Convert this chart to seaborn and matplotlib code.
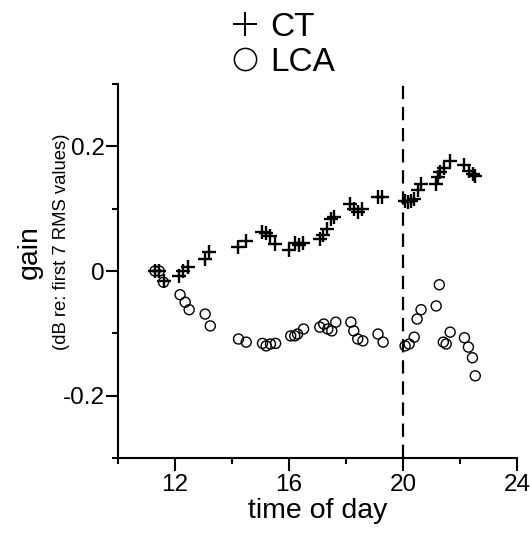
import seaborn as sns
import matplotlib.pyplot as plt
import pandas as pd
from matplotlib.lines import Line2D

# CT gain values (time of day in hours, gain in dB)
ct_time = [11.3, 11.45, 11.6, 12.15, 12.3, 12.45, 13.05, 13.2, 14.2, 14.5,
           15.07, 15.2, 15.35, 15.5, 16.0, 16.2, 16.35, 16.5, 17.08, 17.18,
           17.32, 17.46, 17.57, 18.13, 18.27, 18.41, 18.55, 19.12, 19.26, 20.07,
           20.18, 20.28, 20.39, 20.53, 20.63, 21.16, 21.23, 21.3, 21.44, 21.65,
           22.15, 22.32, 22.46, 22.53]
ct_gain = [0.0, 0.0, -0.016, -0.008, 0.0, 0.006, 0.019, 0.03, 0.038, 0.048,
           0.062, 0.061, 0.056, 0.043, 0.034, 0.045, 0.042, 0.045, 0.051, 0.058,
           0.067, 0.083, 0.086, 0.107, 0.099, 0.094, 0.099, 0.118, 0.118, 0.112,
           0.110, 0.112, 0.115, 0.130, 0.139, 0.139, 0.150, 0.158, 0.165, 0.176,
           0.170, 0.160, 0.155, 0.152]

# LCA gain values
lca_time = [11.3, 11.45, 11.6, 12.18, 12.36, 12.5, 13.06, 13.24, 14.23, 14.5,
            15.07, 15.2, 15.35, 15.53, 16.06, 16.2, 16.3, 16.51, 17.08, 17.22,
            17.36, 17.5, 17.64, 18.17, 18.27, 18.41, 18.59, 19.12, 19.3, 20.07,
            20.21, 20.39, 20.49, 20.63, 21.16, 21.27, 21.41, 21.51, 21.65, 22.15,
            22.29, 22.43, 22.53]
lca_gain = [0.0, 0.0, -0.018, -0.038, -0.05, -0.062, -0.069, -0.088, -0.109, -0.114,
            -0.116, -0.12, -0.117, -0.116, -0.104, -0.104, -0.101, -0.093, -0.090, -0.085,
            -0.093, -0.096, -0.082, -0.082, -0.096, -0.109, -0.112, -0.101, -0.114, -0.12,
            -0.117, -0.106, -0.077, -0.062, -0.056, -0.022, -0.114, -0.117, -0.098, -0.107,
            -0.122, -0.139, -0.168]

event_time = 20

x_major = [12, 16, 20, 24]
x_minor = [10, 14, 18, 22]
y_major = [-0.2, 0, 0.2]
y_minor = [-0.3, -0.1, 0.1, 0.3]

ct = pd.DataFrame({"time": ct_time, "gain": ct_gain})
lca = pd.DataFrame({"time": lca_time, "gain": lca_gain})

sns.set_style("ticks")
plt.rcParams["font.family"] = ["Liberation Sans", "DejaVu Sans"]
plt.rcParams["axes.unicode_minus"] = False
plt.rcParams["text.color"] = "black"
plt.rcParams["axes.labelcolor"] = "black"
plt.rcParams["xtick.color"] = "black"
plt.rcParams["ytick.color"] = "black"

fig = plt.figure(figsize=(5.31, 5.34), dpi=100)
ax = fig.add_axes([0.222, 0.142, 0.752, 0.701])

sns.scatterplot(data=ct, x="time", y="gain", marker="+", color="black",
                s=95, linewidth=1.7, ax=ax)
sns.scatterplot(data=lca, x="time", y="gain", marker="o", facecolor="none",
                edgecolor="black", s=52, linewidth=1.0, ax=ax)

ax.axvline(event_time, color="black", lw=1.6, dashes=(6, 3.5))

ax.set_xlim(10, 24)
ax.set_ylim(-0.3, 0.3)
ax.set_xticks(x_major)
ax.set_xticks(x_minor, minor=True)
ax.set_yticks(y_major)
ax.set_yticklabels(["-0.2", "0", "0.2"])
ax.set_yticks(y_minor, minor=True)
ax.tick_params(which="major", length=9, width=1.5, labelsize=17.5,
               color="black", labelcolor="black")
ax.tick_params(axis="x", which="major", pad=2.5)
ax.tick_params(axis="y", which="major", pad=0.5)
ax.tick_params(which="minor", length=4, width=1.5, color="black")
for side in ["top", "right"]:
    ax.spines[side].set_visible(False)
for side in ["left", "bottom"]:
    ax.spines[side].set_linewidth(1.5)
    ax.spines[side].set_color("black")

ax.set_xlabel("time of day", fontsize=20.5, labelpad=1, color="black")
ax.set_ylabel("")

fig.text(0.056, 0.528, "gain", rotation=90, fontsize=20.5, ha="center", va="center")
fig.text(0.115, 0.548, "(dB re: first 7 RMS values)", rotation=90, fontsize=13.3,
         ha="center", va="center")

handles = [
    Line2D([], [], marker="+", ls="", color="black", markersize=17, mew=1.4),
    Line2D([], [], marker="o", ls="", color="black", mfc="none", markersize=16, mew=1.1),
]
fig.legend(handles, ["CT", "LCA"], loc="upper center", bbox_to_anchor=(0.53, 1.022),
           frameon=False, fontsize=24, handletextpad=0.25, labelspacing=0.12,
           handlelength=1.0, borderpad=0.2)

plt.savefig("out.png", dpi=100)
